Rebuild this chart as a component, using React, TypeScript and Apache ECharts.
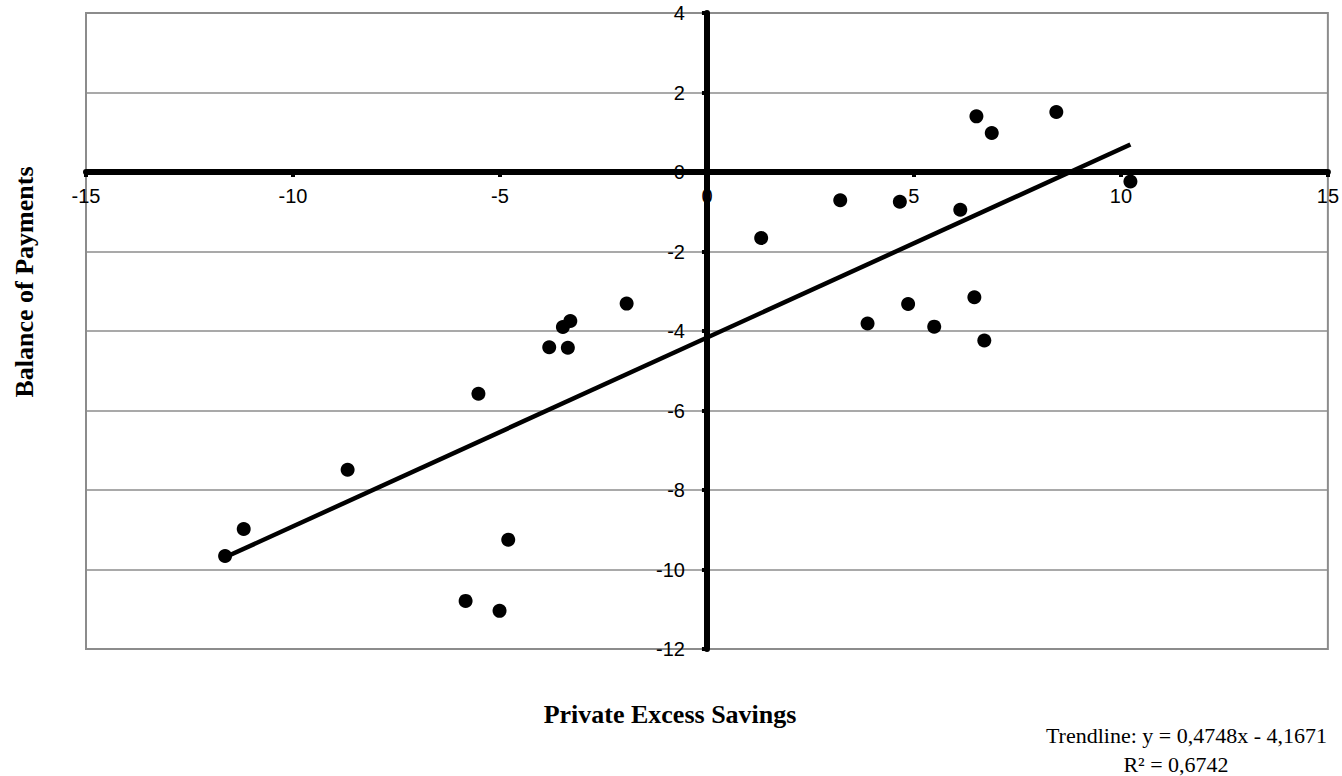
import React, { useEffect, useRef } from "react";
import * as echarts from "echarts";

// Private excess savings (x) and balance of payments (y)
const privateExcessSavings = [
  -11.64, -11.19, -8.68, -5.52, -5.83, -5.01, -4.8, -3.81, -3.48, -3.3, -3.36,
  -1.94, 1.31, 3.22, 4.66, 3.88, 4.86, 5.49, 6.12, 6.46, 6.7, 6.51, 6.88, 8.44,
  10.23,
];
const balanceOfPayments = [
  -9.66, -8.98, -7.49, -5.58, -10.79, -11.04, -9.25, -4.41, -3.9, -3.75, -4.42,
  -3.31, -1.66, -0.71, -0.75, -3.81, -3.32, -3.89, -0.95, -3.15, -4.24, 1.4,
  0.98, 1.51, -0.24,
];

const xTicks = [-15, -10, -5, 0, 5, 10, 15];
const yTicks = [-12, -10, -8, -6, -4, -2, 0, 2, 4];

const trendSlope = 0.4748;
const trendIntercept = -4.1671;
const trendR2 = "0,6742";
const trendLabel = "Trendline: y = 0,4748x - 4,1671";

const xTitle = "Private Excess Savings";
const yTitle = "Balance of Payments";

export default function App() {
  const ref = useRef<HTMLDivElement | null>(null);

  useEffect(() => {
    if (!ref.current) return;
    const chart = echarts.init(ref.current, null, { renderer: "svg" });

    const points = privateExcessSavings.map((x, i) => [x, balanceOfPayments[i]]);
    const xMin = Math.min(...privateExcessSavings);
    const xMax = Math.max(...privateExcessSavings);
    const trend = [xMin, xMax].map((x) => [x, trendSlope * x + trendIntercept]);

    const labelFont = {
      color: "#000",
      fontSize: 20,
      fontFamily: "Liberation Sans",
    };

    chart.setOption({
      animation: false,
      backgroundColor: "#fff",
      grid: {
        left: 86,
        right: 14,
        top: 13,
        bottom: 127,
        show: true,
        borderColor: "#8c8c8c",
        borderWidth: 2,
      },
      xAxis: {
        type: "value",
        position: "bottom",
        min: xTicks[0],
        max: xTicks[xTicks.length - 1],
        interval: xTicks[1] - xTicks[0],
        axisLine: { show: true, onZero: false, lineStyle: { color: "#000", width: 6 } },
        axisTick: { show: true, length: 5, lineStyle: { color: "#000", width: 4 } },
        axisLabel: { ...labelFont, margin: 14, showMinLabel: true, showMaxLabel: true },
        splitLine: { show: false },
        z: 5,
      },
      yAxis: {
        type: "value",
        position: "left",
        min: yTicks[0],
        max: yTicks[yTicks.length - 1],
        interval: yTicks[1] - yTicks[0],
        axisLine: { show: true, onZero: false, lineStyle: { color: "#000", width: 6 } },
        axisTick: { show: true, length: 5, lineStyle: { color: "#000", width: 4 } },
        axisLabel: { ...labelFont, margin: 22, showMinLabel: true, showMaxLabel: true },
        splitLine: { show: true, lineStyle: { color: "#8c8c8c", width: 1.5 } },
        z: 5,
      },
      series: [
        {
          type: "scatter",
          data: points,
          symbol: "circle",
          symbolSize: 14,
          itemStyle: { color: "#000", opacity: 1 },
          z: 6,
        },
        {
          type: "line",
          data: trend,
          symbol: "none",
          lineStyle: { color: "#000", width: 4.5 },
          z: 7,
        },
      ],
      graphic: [
        {
          type: "text",
          x: 670,
          y: 714,
          style: {
            text: xTitle,
            fill: "#000",
            font: "bold 26px 'Liberation Serif'",
            align: "center",
            verticalAlign: "middle",
          },
        },
        {
          type: "text",
          x: 24,
          y: 282,
          rotation: Math.PI / 2,
          style: {
            text: yTitle,
            fill: "#000",
            font: "bold 26px 'Liberation Serif'",
            align: "center",
            verticalAlign: "middle",
          },
        },
        {
          type: "text",
          x: 1327,
          y: 735,
          style: {
            text: trendLabel,
            fill: "#000",
            font: "22px 'Liberation Serif'",
            align: "right",
            verticalAlign: "middle",
          },
        },
        {
          type: "text",
          x: 1176,
          y: 764,
          style: {
            text: "R² = " + trendR2,
            fill: "#000",
            font: "22px 'Liberation Serif'",
            align: "center",
            verticalAlign: "middle",
          },
        },
      ],
    });

    // Move both axes (line, ticks and labels) onto the zero lines using the chart's own scales
    const origin = chart.convertToPixel({ gridIndex: 0 }, [0, 0]) as number[];
    const corner = chart.convertToPixel({ gridIndex: 0 }, [xTicks[0], yTicks[0]]) as number[];
    chart.setOption({
      xAxis: { offset: origin[1] - corner[1] },
      yAxis: { offset: corner[0] - origin[0] },
    });

    return () => chart.dispose();
  }, []);

  return (
    <div
      ref={ref}
      style={{ position: "fixed", left: 0, top: 0, width: 1342, height: 776, background: "#fff" }}
    />
  );
}
